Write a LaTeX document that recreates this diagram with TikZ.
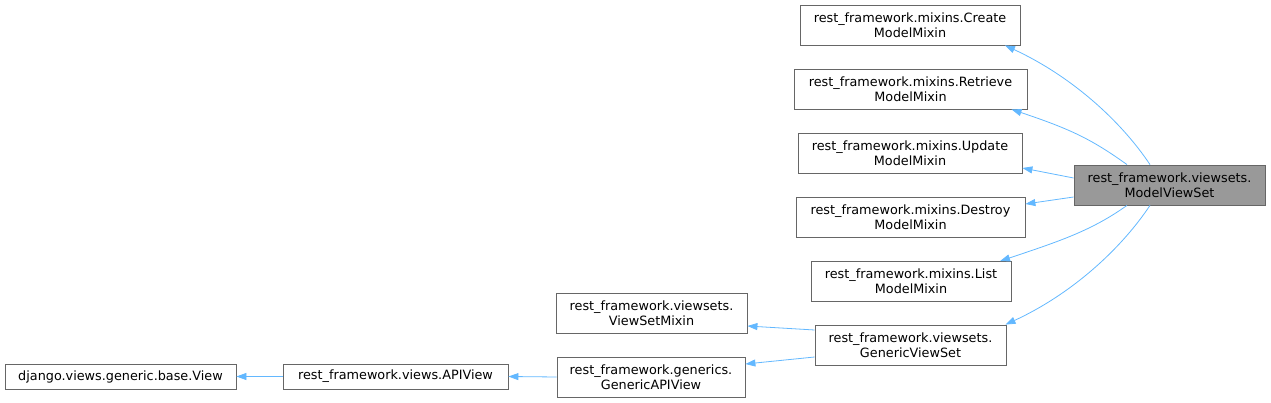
\documentclass[tikz,border=0pt]{standalone}
\usepackage{fontspec}
\setmainfont{DejaVu Sans}
\usetikzlibrary{arrows.meta}
\definecolor{edgeblue}{HTML}{63B8FF}
\definecolor{boxgray}{HTML}{666666}
\definecolor{fillgray}{HTML}{999999}
\begin{document}
\begin{tikzpicture}[x=1pt,y=-1pt,
  cls/.style={draw=boxgray, line width=0.8pt, fill=white, inner sep=0pt, align=center,
    font=\fontsize{12.8}{15}\selectfont, minimum height=40pt},
  edge/.style={draw=edgeblue, line width=0.8pt, -{Triangle[length=10pt,width=7pt,fill=edgeblue]}}
]
\useasboundingbox (0,0) rectangle (1271,403);
\node[cls, minimum width=220pt] (create) at (910,25) {rest\_framework.mixins.Create\\ModelMixin};
\node[cls, minimum width=233pt] (retrieve) at (910.5,89) {rest\_framework.mixins.Retrieve\\ModelMixin};
\node[cls, minimum width=224pt] (update) at (910,153) {rest\_framework.mixins.Update\\ModelMixin};
\node[cls, minimum width=229pt] (destroy) at (910.5,217) {rest\_framework.mixins.Destroy\\ModelMixin};
\node[cls, minimum width=200pt] (list) at (911,281.5) {rest\_framework.mixins.List\\ModelMixin};
\node[cls, minimum width=191pt, fill=fillgray] (mvs) at (1169.5,185) {rest\_framework.viewsets.\\ModelViewSet};
\node[cls, minimum width=191pt] (vsm) at (651.5,313) {rest\_framework.viewsets.\\ViewSetMixin};
\node[cls, minimum width=188pt] (gapi) at (651,377) {rest\_framework.generics.\\GenericAPIView};
\node[cls, minimum width=191pt] (gvs) at (910.5,345) {rest\_framework.viewsets.\\GenericViewSet};
\node[cls, minimum width=231pt, minimum height=25pt] (view) at (120.5,376.5) {django.views.generic.base.View};
\node[cls, minimum width=225pt, minimum height=25pt] (apiview) at (395.5,376.5) {rest\_framework.views.APIView};

\draw[edge] ([xshift=-19.5pt]mvs.north) .. controls +(-30,-45) and +(65,30) .. ([xshift=95pt]create.south);
\draw[edge] ([xshift=-42.5pt]mvs.north) .. controls +(-35,-25) and +(60,20) .. ([xshift=101pt]retrieve.south);
\draw[edge] ([yshift=7pt]mvs.west) -- ([yshift=-15pt]update.east);
\draw[edge] ([yshift=-12pt]mvs.west) -- ([yshift=13pt]destroy.east);
\draw[edge] ([xshift=-42.5pt]mvs.south) .. controls +(-35,25) and +(60,-20) .. ([xshift=89pt]list.north);
\draw[edge] ([xshift=-19.5pt]mvs.south) .. controls +(-30,45) and +(65,-30) .. ([xshift=95pt]gvs.north);
\draw[edge] ([yshift=15pt]gvs.west) -- ([yshift=-13pt]vsm.east);
\draw[edge] ([yshift=-12pt]gvs.west) -- ([yshift=13pt]gapi.east);
\draw[edge] (gapi.west) -- (apiview.east);
\draw[edge] (apiview.west) -- (view.east);
\end{tikzpicture}
\end{document}
